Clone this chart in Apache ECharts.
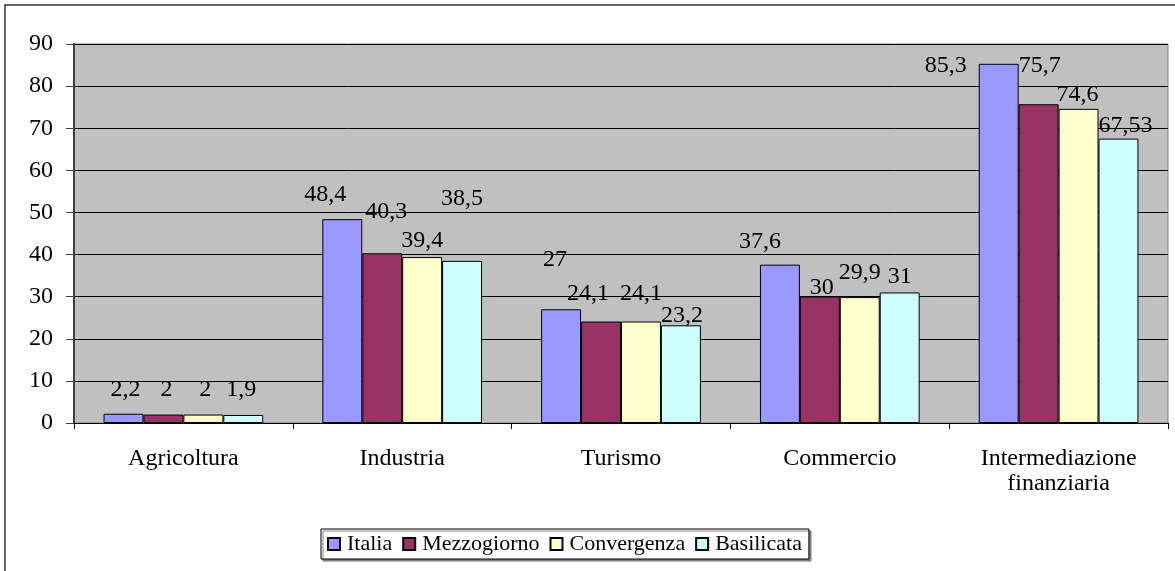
<!DOCTYPE html>
<html>
<head>
<meta charset="utf-8">
<script src="https://cdn.jsdelivr.net/npm/echarts@6/dist/echarts.min.js"></script>
<style>
html,body{margin:0;padding:0;background:#fff;}
#c{width:1175px;height:571px;}
</style>
</head>
<body>
<div id="c"></div>
<script>
const categories = ['Agricoltura', 'Industria', 'Turismo', 'Commercio', 'Intermediazione\nfinanziaria'];
const seriesNames = ['Italia', 'Mezzogiorno', 'Convergenza', 'Basilicata'];
const italia = [2.2, 48.4, 27, 37.6, 85.3];
const mezzogiorno = [2, 40.3, 24.1, 30, 75.7];
const convergenza = [2, 39.4, 24.1, 29.9, 74.6];
const basilicata = [1.9, 38.5, 23.2, 31, 67.53];
const yTicks = [0, 10, 20, 30, 40, 50, 60, 70, 80, 90];

// label nudges (styling only), per series per category: [dx, dy]
const labelNudges = [
  [[2,-8],[-17,-8],[-6,-34],[-20,-7],[-53,18]],
  [[3,-9],[4,-26],[-13,-12],[2,7],[1,-23]],
  [[2,-9],[0,0],[0,-12],[0,-8],[-1,2]],
  [[-2,-9],[0,-46],[1,6],[0,0],[7,3]]
];
const colors = ['#9999FF', '#993366', '#FFFFCC', '#CCFFFF'];
const values = [italia, mezzogiorno, convergenza, basilicata];
const FONT = 'Liberation Serif';

const chart = echarts.init(document.getElementById('c'));
chart.setOption({
  animation: false,
  backgroundColor: '#fff',
  textStyle: {fontFamily: FONT},
  graphic: [{
    type: 'rect', shape: {x: 5, y: 5, width: 1200, height: 600},
    style: {fill: 'none', stroke: '#333', lineWidth: 1.5}, silent: true, z: -1
  }],
  grid: {left: 74, right: 7, top: 44, bottom: 148, show: true,
    backgroundColor: '#C0C0C0', borderColor: '#808080', borderWidth: 1},
  legend: {
    data: seriesNames,
    left: 321, top: 529,
    orient: 'horizontal',
    itemWidth: 12, itemHeight: 12, itemGap: 10,
    icon: 'rect',
    padding: [4, 7, 4, 6],
    borderColor: '#000', borderWidth: 1,
    backgroundColor: '#fff',
    shadowColor: '#808080', shadowBlur: 1, shadowOffsetX: 2, shadowOffsetY: 2,
    textStyle: {fontFamily: FONT, fontSize: 22, color: '#000', padding: [0, 0, 0, 2]}
  },
  xAxis: {
    type: 'category', data: categories,
    axisLine: {lineStyle: {color: '#000', width: 1}},
    axisTick: {show: true, length: 6, lineStyle: {color: '#000'}},
    axisLabel: {fontFamily: FONT, fontSize: 24, color: '#000', margin: 23, lineHeight: 25, interval: 0}
  },
  yAxis: {
    type: 'value', min: yTicks[0], max: yTicks[yTicks.length - 1], interval: 10,
    axisLine: {show: true, lineStyle: {color: '#404040', width: 2}},
    axisTick: {show: true, length: 8, lineStyle: {color: '#404040'}},
    splitLine: {lineStyle: {color: '#000', width: 1}},
    axisLabel: {fontFamily: FONT, fontSize: 24, color: '#000', margin: 21}
  },
  series: seriesNames.map((name, si) => ({
    name: name,
    type: 'bar',
    barGap: '0%',
    barCategoryGap: '27%',
    itemStyle: {color: colors[si], borderColor: '#000', borderWidth: 1},
    label: {
      show: true, position: 'top', distance: 4,
      fontFamily: FONT, fontSize: 24, color: '#000',
      formatter: p => String(p.value).replace('.', ',')
    },
    data: values[si].map((v, ci) => ({
      value: v,
      label: {offset: labelNudges[si][ci]}
    }))
  }))
});
</script>
</body>
</html>
